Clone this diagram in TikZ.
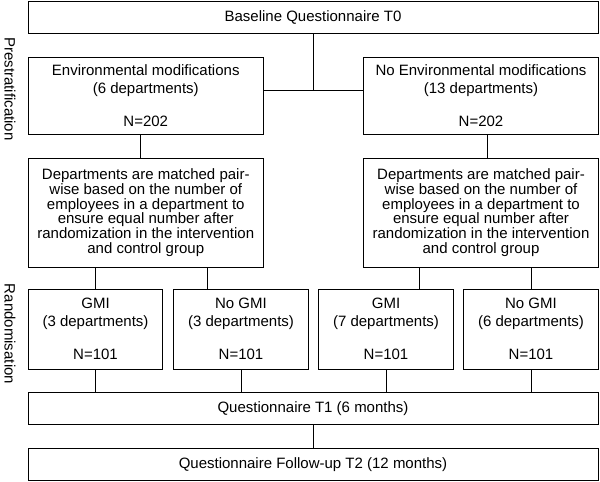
\documentclass[tikz,border=0pt]{standalone}
\usepackage{fontspec}
\setmainfont{Liberation Sans}
\begin{document}
\begin{tikzpicture}[x=1pt,y=-1pt,line width=1pt,
    box/.style={draw,rectangle,inner sep=0pt,align=center,
      font=\fontsize{15}{18}\selectfont},
    widebox/.style={box,minimum width=570pt,minimum height=32pt},
    stratbox/.style={box,minimum width=235pt,minimum height=77pt},
    matchbox/.style={box,minimum width=235pt,minimum height=109pt,
      font=\fontsize{15}{14.7}\selectfont},
    armbox/.style={box,minimum width=134.5pt,minimum height=80pt},
    phase/.style={rotate=-90,font=\fontsize{15}{17}\selectfont}]
  \useasboundingbox (0,0) rectangle (600,482);
  \draw
    (313,17) node[widebox] (base){Baseline Questionnaire T0}
    (145.75,95.5) node[stratbox] (env){Environmental modifications\\(6 departments)\\[15pt]N=202}
    (481,95.5) node[stratbox] (nenv){No Environmental modifications\\(13 departments)\\[15pt]N=202}
    (145.75,212.5) node[matchbox] (deptl){Departments are matched pair-\\wise based on the number of\\employees in a department to\\ensure equal number after\\randomization in the intervention\\and control group}
    (481,212.5) node[matchbox] (deptr){Departments are matched pair-\\wise based on the number of\\employees in a department to\\ensure equal number after\\randomization in the intervention\\and control group}
    (95.5,329) node[armbox] (gmil){GMI\\(3 departments)\\[15pt]N=101}
    (241,329) node[armbox] (ngmil){No GMI\\(3 departments)\\[15pt]N=101}
    (386,329) node[armbox] (gmir){GMI\\(7 departments)\\[15pt]N=101}
    (531,329) node[armbox] (ngmir){No GMI\\(6 departments)\\[15pt]N=101}
    (313,408.5) node[widebox] (t1){Questionnaire T1 (6 months)}
    (313,464.5) node[widebox] (t2){Questionnaire Follow-up T2 (12 months)};
  \node[phase] (prestrat) at (10,89) {Prestratification};
  \node[phase] (random) at (10,334) {Randomisation};
  \coordinate (split) at (313,90);
  \coordinate (envx) at (140,0);
  \coordinate (nenvx) at (487,0);
  \coordinate (ngmilx) at (207,0);
  \coordinate (gmirx) at (419,0);
  \begin{scope}[-]
    \draw (base.south) to (split);
    \draw (env.east |- split) to (nenv.west |- split);
    \draw (env.south -| envx) to (deptl.north -| envx);
    \draw (nenv.south -| nenvx) to (deptr.north -| nenvx);
    \draw (deptl.south -| gmil.north) to (gmil.north);
    \draw (deptl.south -| ngmilx) to (ngmil.north -| ngmilx);
    \draw (deptr.south -| gmirx) to (gmir.north -| gmirx);
    \draw (deptr.south -| ngmir.north) to (ngmir.north);
    \draw (gmil.south) to (t1.north -| gmil.south);
    \draw (ngmil.south) to (t1.north -| ngmil.south);
    \draw (gmir.south) to (t1.north -| gmir.south);
    \draw (ngmir.south) to (t1.north -| ngmir.south);
    \draw (t1.south) to (t2.north);
  \end{scope}
\end{tikzpicture}
\end{document}
